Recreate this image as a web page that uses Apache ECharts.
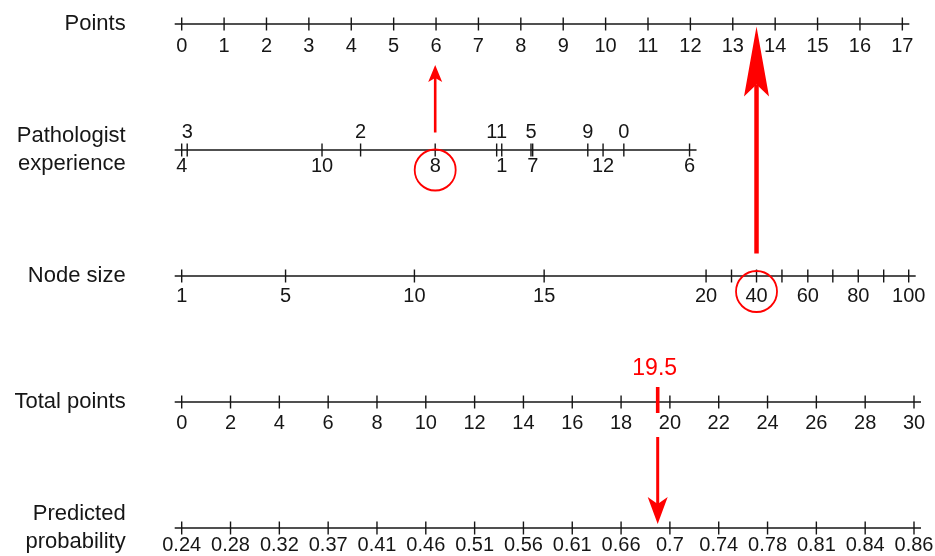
<!DOCTYPE html>
<html><head><meta charset="utf-8">
<script src="https://cdn.jsdelivr.net/npm/echarts@6/dist/echarts.min.js"></script>
<style>html,body{margin:0;padding:0;background:#fff}#c{width:935px;height:556px}</style>
</head><body><div id="c"></div>
<script>
// ---------- data ----------
const rowNames = ['Points', 'Pathologist\nexperience', 'Node size', 'Total points', 'Predicted\nprobability'];

const pointsTicks = [0,1,2,3,4,5,6,7,8,9,10,11,12,13,14,15,16,17];
const pointsLabels = ['0','1','2','3','4','5','6','7','8','9','10','11','12','13','14','15','16','17'];

const pathologistLabels = ['4','3','10','2','8','11','1','5','7','9','12','0','6'];
const pathologistPoints = [0, 0.13, 3.31, 4.22, 5.98, 7.43, 7.55, 8.24, 8.28, 9.58, 9.94, 10.43, 11.98];
const pathologistSide   = ['below','above','below','above','below','above','below','above','below','above','below','above','below'];

const nodeSizeValues = [1, 5, 10, 15, 20, 30, 40, 50, 60, 70, 80, 90, 100];
const nodeSizePoints = [0, 2.45, 5.49, 8.55, 12.37, 12.97, 13.56, 14.16, 14.77, 15.36, 15.96, 16.56, 17.15];
const nodeSizeLabels = ['1','5','10','15','20','','40','','60','','80','','100'];

const totalPointsTicks  = [0,2,4,6,8,10,12,14,16,18,20,22,24,26,28,30];
const totalPointsLabels = ['0','2','4','6','8','10','12','14','16','18','20','22','24','26','28','30'];

const probabilityTotalPoints = [0,2,4,6,8,10,12,14,16,18,20,22,24,26,28,30];
const probabilityLabels = ['0.24','0.28','0.32','0.37','0.41','0.46','0.51','0.56','0.61','0.66','0.7','0.74','0.78','0.81','0.84','0.86'];

const selectedPathologist = '8';
const selectedNodeSize = 40;
const totalScore = 19.5;
const totalScoreLabel = '19.5';

// ---------- style ----------
const INK = '#161616';
const RED = '#ff0000';
const FONT = '"Liberation Sans", Arial, Helvetica, sans-serif';

function rowSeries(row, xAxisIndex, xs, labels, sides, below, above) {
  const xmin = Math.min.apply(null, xs), xmax = Math.max.apply(null, xs);
  return {
    type: 'custom', xAxisIndex: xAxisIndex, yAxisIndex: 0, silent: true, clip: false,
    encode: { x: 0, y: 1 },
    data: xs.map(function (x) { return [x, row]; }),
    renderItem: function (params, api) {
      const i = params.dataIndex;
      const p = api.coord([api.value(0), row]);
      const ch = [{ type: 'line', shape: { x1: p[0], y1: p[1] - 6.5, x2: p[0], y2: p[1] + 6.5 },
                    style: { stroke: INK, lineWidth: 1.4 } }];
      const lab = labels[i];
      if (lab) {
        const off = (sides && sides[i] === 'above') ? above : below;
        ch.push({ type: 'text', style: { text: lab, x: p[0], y: p[1] + off, fill: INK,
                  fontSize: 20, fontFamily: FONT, align: 'center', verticalAlign: 'middle' } });
      }
      if (i === 0) {
        const a = api.coord([xmin, row]), b = api.coord([xmax, row]);
        ch.push({ type: 'line', shape: { x1: a[0] - 7, y1: a[1], x2: b[0] + 7, y2: b[1] },
                  style: { stroke: INK, lineWidth: 1.4 } });
      }
      return { type: 'group', children: ch };
    }
  };
}

function arrow(x, yFrom, yTip, shaftW, headLen, headW, notch) {
  const dir = yTip < yFrom ? 1 : -1; // head extends toward yFrom
  const base = yTip + dir * headLen;
  const neck = yTip + dir * (headLen - notch);
  return [
    { type: 'line', shape: { x1: x, y1: yFrom, x2: x, y2: neck }, style: { stroke: RED, lineWidth: shaftW } },
    { type: 'polygon', shape: { points: [[x, yTip], [x + headW / 2, base], [x, neck], [x - headW / 2, base]] },
      style: { fill: RED } }
  ];
}

const pathIdx = pathologistLabels.indexOf(selectedPathologist);
const nodeIdx = nodeSizeValues.indexOf(selectedNodeSize);

const annotationPoints = {
  type: 'custom', xAxisIndex: 1, yAxisIndex: 0, silent: true, clip: false, z: 5,
  encode: { x: 0, y: 1 },
  data: [[pathologistPoints[pathIdx], 1], [nodeSizePoints[nodeIdx], 2]],
  renderItem: function (params, api) {
    const x = api.value(0);
    const row = api.value(1);
    const p = api.coord([x, row]);
    const top = api.coord([x, 0]);
    let ch = [];
    if (params.dataIndex === 0) {
      ch = ch.concat(arrow(p[0], p[1] - 17.5, top[1] + 41, 2.6, 17, 14, 4));
      ch.push({ type: 'circle', shape: { cx: p[0], cy: p[1] + 20, r: 20.5 },
                style: { stroke: RED, fill: null, lineWidth: 1.8 } });
    } else {
      ch = ch.concat(arrow(p[0], p[1] - 22.5, top[1] + 2.5, 4.5, 70, 25, 12));
      ch.push({ type: 'circle', shape: { cx: p[0], cy: p[1] + 15.5, r: 20.5 },
                style: { stroke: RED, fill: null, lineWidth: 1.8 } });
    }
    return { type: 'group', children: ch };
  }
};

const annotationTotal = {
  type: 'custom', xAxisIndex: 0, yAxisIndex: 0, silent: true, clip: false, z: 5,
  encode: { x: 0, y: 1 },
  data: [[totalScore, 3]],
  renderItem: function (params, api) {
    const p = api.coord([api.value(0), 3]);
    const q = api.coord([api.value(0), 4]);
    let ch = [
      { type: 'line', shape: { x1: p[0], y1: p[1] - 15, x2: p[0], y2: p[1] + 11 },
        style: { stroke: RED, lineWidth: 3.6 } },
      { type: 'text', style: { text: totalScoreLabel, x: p[0] - 3, y: p[1] - 33, fill: RED,
        fontSize: 23, fontFamily: FONT, align: 'center', verticalAlign: 'middle' } }
    ];
    ch = ch.concat(arrow(p[0], p[1] + 35, q[1] - 4, 3, 27, 20, 7));
    return { type: 'group', children: ch };
  }
};

const chart = echarts.init(document.getElementById('c'), null, { renderer: 'canvas' });
chart.setOption({
  animation: false,
  backgroundColor: '#ffffff',
  grid: { left: 181.7, right: 21, top: 24, bottom: 27, containLabel: false },
  xAxis: [
    { type: 'value', min: 0, max: 30, show: false },
    { type: 'value', min: 0, max: 17.275, show: false }
  ],
  yAxis: {
    type: 'category', data: rowNames, inverse: true, boundaryGap: false,
    axisLine: { show: false }, axisTick: { show: false }, splitLine: { show: false },
    axisLabel: { fontSize: 22, color: INK, fontFamily: FONT, margin: 56, lineHeight: 28, align: 'right' }
  },
  series: [
    rowSeries(0, 1, pointsTicks, pointsLabels, null, 22, 0),
    rowSeries(1, 1, pathologistPoints, pathologistLabels, pathologistSide, 16, -17.5),
    rowSeries(2, 1, nodeSizePoints, nodeSizeLabels, null, 20, 0),
    rowSeries(3, 0, totalPointsTicks, totalPointsLabels, null, 21.5, 0),
    rowSeries(4, 0, probabilityTotalPoints, probabilityLabels, null, 17.5, 0),
    annotationPoints,
    annotationTotal
  ]
});
</script>
</body></html>
